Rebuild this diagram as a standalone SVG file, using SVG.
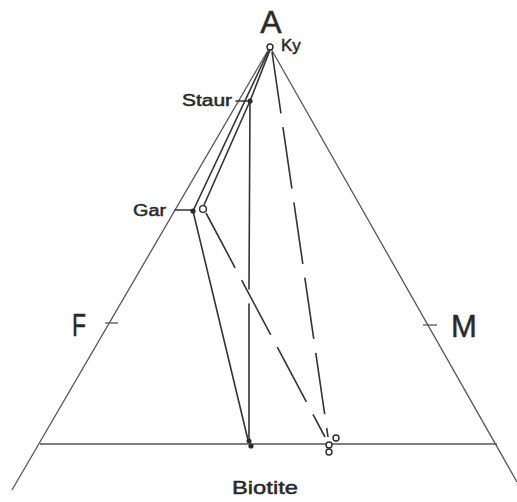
<svg xmlns="http://www.w3.org/2000/svg" width="517" height="502" viewBox="0 0 517 502">
<style>
.ln{stroke:#333;stroke-width:1.6;fill:none;stroke-linecap:round}
.ax{stroke:#555;stroke-width:1.3;fill:none}
.ds{stroke:#333;stroke-width:1.6;fill:none;stroke-dasharray:62 14}
.lbl{font-family:"Liberation Sans",Arial,sans-serif;fill:#2a2a2a;stroke:#2a2a2a;stroke-width:0.5}
.dot{fill:#2a2a2a}
.oc{fill:#fff;stroke:#2a2a2a;stroke-width:1.4}
</style>
<rect width="517" height="502" fill="#fff"/>
<g id="frame">
<line class="ax" x1="270" y1="47" x2="12" y2="490"/>
<line class="ax" x1="270" y1="47" x2="517" y2="482"/>
<line class="ax" x1="40" y1="444" x2="497" y2="444"/>
<line class="ax" x1="105" y1="323" x2="118" y2="323"/>
<line class="ax" x1="423" y1="325" x2="437" y2="325"/>
</g>
<g id="connectors">
<line class="ln" x1="270" y1="50" x2="250" y2="101"/>
<line class="ln" x1="268" y1="52" x2="193" y2="211"/>
<line class="ln" x1="250" y1="101" x2="204" y2="205"/>
<line class="ln" x1="250" y1="101" x2="249" y2="289"/>
<line class="ln" x1="249" y1="304" x2="249" y2="441"/>
<line class="ln" x1="193" y1="211" x2="248" y2="440"/>
<line class="ds" x1="272" y1="52" x2="328" y2="437"/>
<line class="ds" x1="206" y1="213" x2="325" y2="437"/>
</g>
<g id="node-A">
<text class="lbl" x="271" y="33" font-size="32" text-anchor="middle">A</text>
<text class="lbl" x="281" y="51" font-size="17">Ky</text>
<circle class="oc" cx="270" cy="47" r="3"/>
</g>
<g id="node-F">
<text class="lbl" x="72" y="336" font-size="31" textLength="14" lengthAdjust="spacingAndGlyphs">F</text>
</g>
<g id="node-M">
<text class="lbl" x="451" y="337" font-size="31">M</text>
</g>
<g id="node-Staur">
<text class="lbl" x="182" y="106" font-size="16" textLength="50" lengthAdjust="spacingAndGlyphs">Staur</text>
<line class="ln" x1="236" y1="101" x2="247" y2="101"/>
<circle class="dot" cx="250" cy="101" r="2.6"/>
</g>
<g id="node-Gar">
<text class="lbl" x="133" y="216" font-size="16" textLength="33" lengthAdjust="spacingAndGlyphs">Gar</text>
<line class="ln" x1="175" y1="210" x2="191" y2="210"/>
<circle class="dot" cx="193" cy="211" r="2.6"/>
<circle class="oc" cx="203" cy="209" r="3.4"/>
</g>
<g id="node-Biotite">
<circle class="dot" cx="249" cy="441" r="2.5"/>
<circle class="dot" cx="251" cy="446" r="2.6"/>
<circle class="oc" cx="336" cy="438" r="3"/>
<circle class="oc" cx="329" cy="445" r="3"/>
<circle class="oc" cx="329" cy="452" r="3"/>
<text class="lbl" x="232" y="494" font-size="19" textLength="66" lengthAdjust="spacingAndGlyphs">Biotite</text>
</g>
</svg>
